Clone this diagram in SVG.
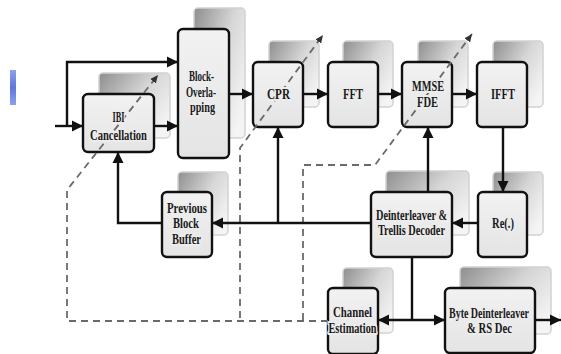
<svg xmlns="http://www.w3.org/2000/svg" width="561" height="354" viewBox="0 0 561 354">
  <style>
    .box { fill: url(#boxFill); stroke: #111; stroke-width: 2.4; }
    .shadow { fill: url(#shadowFill); stroke: #d2d2d2; stroke-width: 1.5; }
    .lbl { font-family: "Liberation Serif", "Times New Roman", serif; font-weight: bold; font-size: 14.5px; fill: #1a1a1a; text-anchor: middle; stroke: #ececec; stroke-width: 4; stroke-linejoin: round; paint-order: stroke; }
    .wire { fill: none; stroke: #111; stroke-width: 2.4; }
    .dash { fill: none; stroke: #6a6a6a; stroke-width: 1.8; stroke-dasharray: 7 5; }
  </style>
  <defs>
    <linearGradient id="boxFill" x1="0" y1="0" x2="0" y2="1">
      <stop offset="0" stop-color="#f2f2f2"/>
      <stop offset="1" stop-color="#e4e4e4"/>
    </linearGradient>
    <linearGradient id="shadowFill" x1="0" y1="0" x2="1" y2="0.7">
      <stop offset="0" stop-color="#8e8e8e"/>
      <stop offset="0.55" stop-color="#d6d6d6"/>
      <stop offset="1" stop-color="#f4f4f4"/>
    </linearGradient>
    <linearGradient id="bar" x1="0" y1="0" x2="0" y2="1">
      <stop offset="0" stop-color="#8fa2ec"/>
      <stop offset="0.5" stop-color="#5f77d8"/>
      <stop offset="1" stop-color="#8fa2ec"/>
    </linearGradient>
    <marker id="arr" markerUnits="userSpaceOnUse" markerWidth="12" markerHeight="12" refX="11" refY="6" orient="auto">
      <path d="M0,0.5 L11,6 L0,11.5 Z" fill="#111"/>
    </marker>
    <marker id="arrD" markerUnits="userSpaceOnUse" markerWidth="9" markerHeight="9" refX="8" refY="4" orient="auto">
      <path d="M0,0.5 L8,4 L0,7.5 Z" fill="#333"/>
    </marker>
  </defs>

  <rect x="10" y="70" width="6" height="35" fill="url(#bar)"/>

  <!-- stacked shadows behind each block -->
  <g id="shadows">
    <rect class="shadow" x="99" y="73" width="71" height="65" rx="4"/>
    <rect class="shadow" x="194" y="8" width="51" height="130" rx="4"/>
    <rect class="shadow" x="269" y="41" width="50" height="66" rx="4"/>
    <rect class="shadow" x="343" y="41" width="50" height="66" rx="4"/>
    <rect class="shadow" x="418" y="41" width="50" height="66" rx="4"/>
    <rect class="shadow" x="493" y="41" width="50" height="66" rx="4"/>
    <rect class="shadow" x="178" y="172" width="50" height="63" rx="4"/>
    <rect class="shadow" x="386" y="171" width="83" height="64" rx="4"/>
    <rect class="shadow" x="493" y="172" width="50" height="63" rx="4"/>
    <rect class="shadow" x="343" y="268" width="50" height="65" rx="4"/>
    <rect class="shadow" x="460" y="267" width="91" height="67" rx="4"/>
  </g>

  <!-- block bodies -->
  <g id="bodies">
    <rect id="ibi-body" class="box" x="83" y="94" width="71" height="58" rx="5"/>
    <rect id="overlap-body" class="box" x="178" y="29" width="51" height="129" rx="5"/>
    <rect id="cpr-body" class="box" x="253" y="62" width="50" height="65" rx="5"/>
    <rect id="fft-body" class="box" x="328" y="62" width="50" height="65" rx="5"/>
    <rect id="mmse-body" class="box" x="402" y="62" width="50" height="65" rx="5"/>
    <rect id="ifft-body" class="box" x="477" y="62" width="50" height="65" rx="5"/>
    <rect id="prev-body" class="box" x="162" y="192" width="50" height="65" rx="5"/>
    <rect id="deint-body" class="box" x="371" y="192" width="81" height="65" rx="5"/>
    <rect id="re-body" class="box" x="478" y="192" width="49" height="65" rx="5"/>
    <rect id="chan-body" class="box" x="328" y="288" width="50" height="66" rx="5"/>
    <rect id="byte-body" class="box" x="445" y="288" width="90" height="65" rx="5"/>
  </g>

  <!-- dashed control paths, drawn over the blocks they cross -->
  <g id="dashed">
    <path class="dash" d="M328,321 H67 V190 L158,75" marker-end="url(#arrD)"/>
    <path class="dash" d="M240,318 V148 L323,35" marker-end="url(#arrD)"/>
    <path class="dash" d="M303,320 V165 H375 L472,34" marker-end="url(#arrD)"/>
  </g>

  <!-- block labels (haloed so dashed paths pass behind the words) -->
  <g id="ibi">
    <text class="lbl" x="118.5" y="122" textLength="12" lengthAdjust="spacingAndGlyphs">IBI</text>
    <text class="lbl" x="118.5" y="140" textLength="57" lengthAdjust="spacingAndGlyphs">Cancellation</text>
  </g>
  <g id="overlap">
    <text class="lbl" x="201.5" y="81" textLength="25" lengthAdjust="spacingAndGlyphs">Block-</text>
    <text class="lbl" x="201" y="96.5" textLength="30" lengthAdjust="spacingAndGlyphs">Overla-</text>
    <text class="lbl" x="202.5" y="112" textLength="25" lengthAdjust="spacingAndGlyphs">pping</text>
  </g>
  <g id="cpr">
    <text class="lbl" x="278.5" y="99" textLength="23" lengthAdjust="spacingAndGlyphs">CPR</text>
  </g>
  <g id="fft">
    <text class="lbl" x="353" y="99" textLength="20" lengthAdjust="spacingAndGlyphs">FFT</text>
  </g>
  <g id="mmse">
    <text class="lbl" x="428" y="91" textLength="32" lengthAdjust="spacingAndGlyphs">MMSE</text>
    <text class="lbl" x="427.5" y="107" textLength="21" lengthAdjust="spacingAndGlyphs">FDE</text>
  </g>
  <g id="ifft">
    <text class="lbl" x="503" y="99" textLength="24" lengthAdjust="spacingAndGlyphs">IFFT</text>
  </g>
  <g id="prev-buffer">
    <text class="lbl" x="187" y="213" textLength="40" lengthAdjust="spacingAndGlyphs">Previous</text>
    <text class="lbl" x="186" y="228" textLength="26" lengthAdjust="spacingAndGlyphs">Block</text>
    <text class="lbl" x="186.5" y="244" textLength="29" lengthAdjust="spacingAndGlyphs">Buffer</text>
  </g>
  <g id="deinterleaver">
    <text class="lbl" x="411.5" y="220" textLength="71" lengthAdjust="spacingAndGlyphs">Deinterleaver &amp;</text>
    <text class="lbl" x="411.5" y="235" textLength="67" lengthAdjust="spacingAndGlyphs">Trellis Decoder</text>
  </g>
  <g id="re">
    <text class="lbl" x="503" y="228" textLength="22" lengthAdjust="spacingAndGlyphs">Re(.)</text>
  </g>
  <g id="channel">
    <text class="lbl" x="352.5" y="317" textLength="39" lengthAdjust="spacingAndGlyphs">Channel</text>
    <text class="lbl" x="352.5" y="333" textLength="48" lengthAdjust="spacingAndGlyphs">Estimation</text>
  </g>
  <g id="byte-deint">
    <text class="lbl" x="489" y="318" textLength="80" lengthAdjust="spacingAndGlyphs">Byte Deinterleaver</text>
    <text class="lbl" x="489.5" y="333" textLength="45" lengthAdjust="spacingAndGlyphs">&amp; RS Dec</text>
  </g>

  <!-- solid signal connectors -->
  <g id="connectors">
    <path class="wire" d="M55,126 H83" marker-end="url(#arr)"/>
    <path class="wire" d="M67,126 V62 H178" marker-end="url(#arr)"/>
    <path class="wire" d="M154,126 H178" marker-end="url(#arr)"/>
    <path class="wire" d="M229,94 H253" marker-end="url(#arr)"/>
    <path class="wire" d="M303,94 H328" marker-end="url(#arr)"/>
    <path class="wire" d="M378,94 H402" marker-end="url(#arr)"/>
    <path class="wire" d="M452,94 H477" marker-end="url(#arr)"/>
    <path class="wire" d="M503,127 V192" marker-end="url(#arr)"/>
    <path class="wire" d="M478,223 H452" marker-end="url(#arr)"/>
    <path class="wire" d="M428,192 V127" marker-end="url(#arr)"/>
    <path class="wire" d="M371,223 H212" marker-end="url(#arr)"/>
    <path class="wire" d="M278,223 V127" marker-end="url(#arr)"/>
    <path class="wire" d="M162,223 H118 V152" marker-end="url(#arr)"/>
    <path class="wire" d="M412,257 V320"/>
    <path class="wire" d="M412,320 H378" marker-end="url(#arr)"/>
    <path class="wire" d="M412,320 H445" marker-end="url(#arr)"/>
    <path class="wire" d="M535,320 H561" marker-end="url(#arr)"/>
  </g>
</svg>
